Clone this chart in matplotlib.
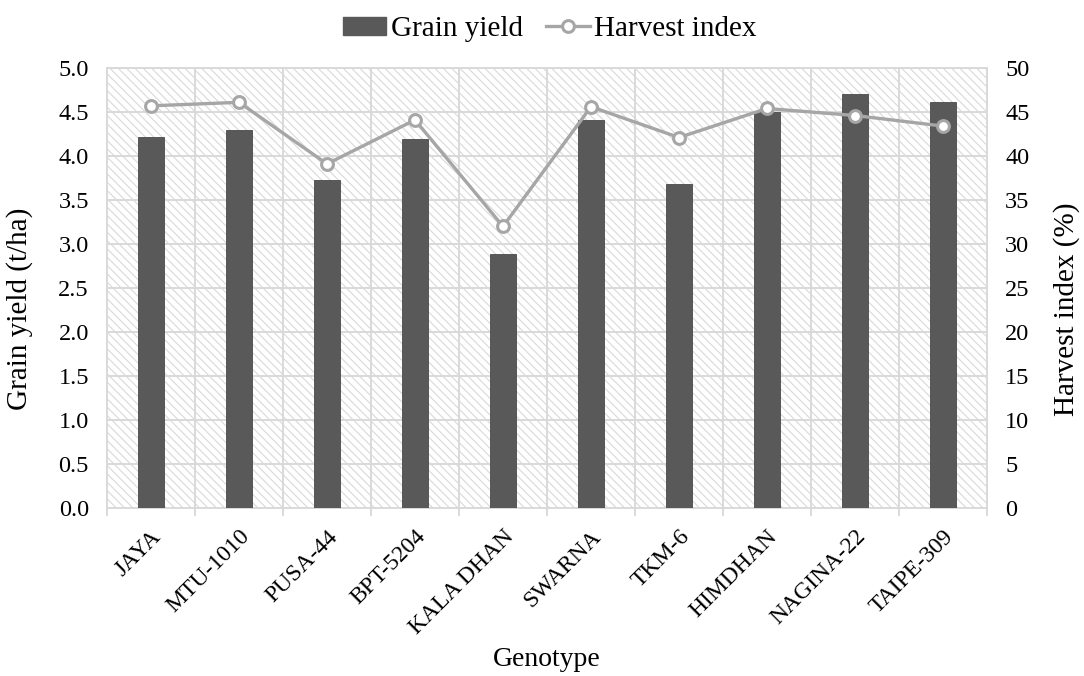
import numpy as np
import matplotlib
matplotlib.use('Agg')
import matplotlib.pyplot as plt
from matplotlib.lines import Line2D
from matplotlib.patches import Patch

plt.rcParams['font.family'] = ['Liberation Serif', 'DejaVu Serif']
plt.rcParams['hatch.color'] = '#d6d6d6'
plt.rcParams['hatch.linewidth'] = 0.8

genotypes = ['JAYA', 'MTU-1010', 'PUSA-44', 'BPT-5204', 'KALA DHAN',
             'SWARNA', 'TKM-6', 'HIMDHAN', 'NAGINA-22', 'TAIPE-309']
grain_yield = [4.22, 4.29, 3.73, 4.19, 2.89, 4.41, 3.68, 4.50, 4.70, 4.61]
harvest_index = [45.7, 46.1, 39.1, 44.1, 32.0, 45.6, 42.1, 45.4, 44.6, 43.4]

grid_c = '#d9d9d9'
bar_c = '#595959'
line_c = '#a6a6a6'

fig = plt.figure(figsize=(10.84, 6.76), dpi=100)
ax = fig.add_axes([107/1084, 1-508/676, 880/1084, 440/676])
x = np.arange(len(genotypes))

ax.set_xlim(-0.5, len(genotypes)-0.5)
ax.set_ylim(0, 5)
# hatched background
ax.add_patch(plt.Rectangle((0, 0), 1, 1, transform=ax.transAxes, facecolor='white',
                           edgecolor=grid_c, hatch='\\\\\\\\', lw=0, zorder=0))
for yv in np.arange(0.5, 5.01, 0.5):
    ax.axhline(yv, color=grid_c, lw=1.4, zorder=1)
for xv in np.arange(0.5, len(genotypes)-0.5, 1):
    ax.axvline(xv, color=grid_c, lw=1.4, zorder=1)

ax.bar(x, grain_yield, width=0.285, color=bar_c, edgecolor='#4a4a4a', lw=0.6, zorder=3)

ax.set_yticks(np.arange(0, 5.01, 0.5))
ax.set_yticklabels(['%.1f' % v for v in np.arange(0, 5.01, 0.5)], fontsize=17.5)
ax.set_xticks(x)
ax.set_xticklabels(genotypes, fontsize=17, rotation=45, ha='right', rotation_mode='anchor')
ax.tick_params(axis='x', length=0, pad=13)
ax.set_xticks(np.arange(-0.5, len(genotypes), 1), minor=True)
ax.tick_params(axis='x', which='minor', length=6, color=grid_c, width=1.4)
ax.tick_params(axis='y', length=0, pad=13)
for s in ax.spines.values():
    s.set_color(grid_c)
    s.set_linewidth(1.4)
ax.set_ylabel('Grain yield (t/ha)', fontsize=21)
ax.yaxis.set_label_coords(-0.084, 0.452)
ax.set_xlabel('Genotype', fontsize=20)
ax.xaxis.set_label_coords(0.5, -0.316)

ax2 = ax.twinx()
ax2.set_ylim(0, 50)
ax2.plot(x, harvest_index, color=line_c, lw=2.4, marker='o', ms=8.5,
         mfc='white', mec=line_c, mew=2.2, zorder=4)
ax2.set_yticks(np.arange(0, 51, 5))
ax2.set_yticklabels([str(v) for v in range(0, 51, 5)], fontsize=17.5)
ax2.tick_params(axis='y', length=0, pad=13)
for s in ax2.spines.values():
    s.set_visible(False)
ax2.set_ylabel('Harvest index (%)', fontsize=21)
ax2.yaxis.set_label_coords(1.075, 0.452)

handles = [Patch(facecolor=bar_c, edgecolor=bar_c),
           Line2D([0], [0], color=line_c, lw=2.4, marker='o', ms=8.5,
                  mfc='white', mec=line_c, mew=2.2)]
fig.legend(handles, ['Grain yield', 'Harvest index'], loc='upper center',
           bbox_to_anchor=(0.507, 1.015), ncol=2, frameon=False, fontsize=21,
           handlelength=1.5, handleheight=0.6, handletextpad=0.15, columnspacing=0.8)

fig.savefig('out.png', dpi=100)
